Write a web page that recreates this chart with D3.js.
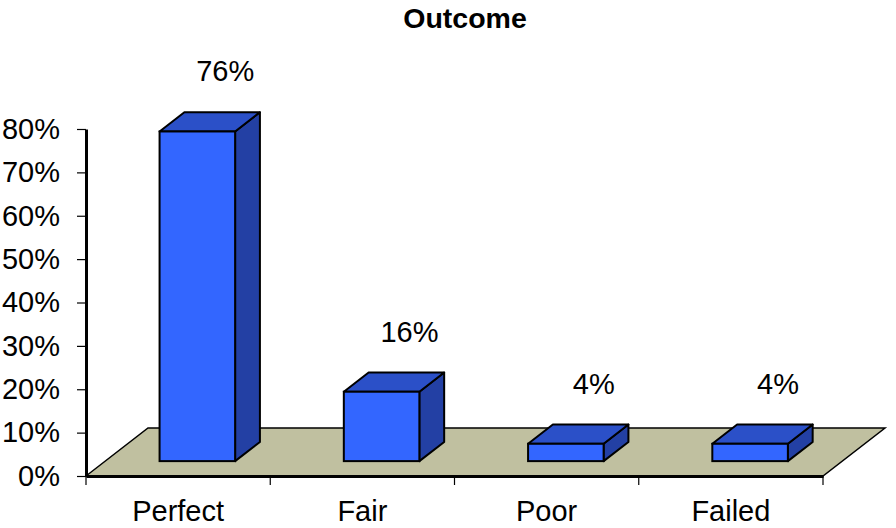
<!DOCTYPE html>
<html>
<head>
<meta charset="utf-8">
<script src="https://cdn.jsdelivr.net/npm/d3@7"></script>
<style>
  body { margin: 0; background: #fff; }
  text { font-family: "Liberation Sans", Arial, sans-serif; fill: #000; }
</style>
</head>
<body>
<div id="chart"></div>
<script>
(function(){
  const categories = ["Perfect", "Fair", "Poor", "Failed"];
  const values = [0.76, 0.16, 0.04, 0.04];
  const valueLabels = ["76%", "16%", "4%", "4%"];
  const yTicks = [0, 0.1, 0.2, 0.3, 0.4, 0.5, 0.6, 0.7, 0.8];

  const width = 896, height = 528;
  const floorDx = 62, floorDy = -48;   // depth vector of the floor
  const barFront = 0.31, barBack = 0.71; // bar depth position as fraction of floor depth

  const svg = d3.select("#chart")
    .append("svg")
    .attr("width", width)
    .attr("height", height);

  const x = d3.scaleBand()
    .domain(categories)
    .range([86, 823]);

  const y = d3.scaleLinear()
    .domain([0, 0.8])
    .range([476, 129]);

  // floor
  const y0 = y(0);
  svg.append("path")
    .attr("d", `M${x.range()[0]},${y0} L${x.range()[0] + floorDx},${y0 + floorDy} L${x.range()[1] + floorDx},${y0 + floorDy} L${x.range()[1]},${y0} Z`)
    .style("fill", "#c0c0a0")
    .style("stroke", "#000")
    .style("stroke-width", 1.5);

  const bw = x.bandwidth() * 0.41;
  const fx = floorDx * barFront, fy = floorDy * barFront;
  const ddx = floorDx * (barBack - barFront), ddy = floorDy * (barBack - barFront);

  const bars = svg.append("g")
    .selectAll(".bar")
    .data(categories.map((c, i) => ({ cat: c, value: values[i], label: valueLabels[i] })))
    .enter()
    .append("g")
    .attr("class", "bar");

  const left = d => x(d.cat) + x.bandwidth() / 2 - bw / 2 + fx;
  const top = d => y(d.value) + fy;
  const bottom = y0 + fy;

  // side face
  bars.append("path")
    .attr("d", d => {
      const r = left(d) + bw;
      return `M${r},${top(d)} L${r + ddx},${top(d) + ddy} L${r + ddx},${bottom + ddy} L${r},${bottom} Z`;
    })
    .style("fill", "#2340a4")
    .style("stroke", "#000")
    .style("stroke-width", 2)
    .style("stroke-linejoin", "round");

  // top face
  bars.append("path")
    .attr("d", d => {
      const l = left(d), t = top(d);
      return `M${l},${t} L${l + ddx},${t + ddy} L${l + bw + ddx},${t + ddy} L${l + bw},${t} Z`;
    })
    .style("fill", "#2b50c8")
    .style("stroke", "#000")
    .style("stroke-width", 2)
    .style("stroke-linejoin", "round");

  // front face
  bars.append("rect")
    .attr("x", d => left(d))
    .attr("y", d => top(d))
    .attr("width", bw)
    .attr("height", d => bottom - top(d))
    .style("fill", "#3366ff")
    .style("stroke", "#000")
    .style("stroke-width", 2);

  // value labels
  bars.append("text")
    .attr("x", d => x(d.cat) + x.bandwidth() / 2 + floorDx * 0.76)
    .attr("y", d => top(d) - 50)
    .attr("text-anchor", "middle")
    .style("font-size", "29px")
    .text(d => d.label);

  // y axis
  const yAxis = svg.append("g")
    .attr("transform", `translate(${x.range()[0]},0)`)
    .call(d3.axisLeft(y)
      .tickValues(yTicks)
      .tickFormat(d3.format(".0%"))
      .tickSize(9)
      .tickSizeOuter(0)
      .tickPadding(17));
  yAxis.select(".domain").attr("stroke", "#000").attr("stroke-width", 3);
  yAxis.selectAll(".tick line").attr("stroke", "#000").attr("stroke-width", 1.2);
  yAxis.selectAll(".tick text")
    .style("font-size", "29px")
    .style("font-family", "'Liberation Sans', Arial, sans-serif");

  // x axis
  const xAxis = svg.append("g")
    .attr("transform", `translate(0,${y0})`)
    .call(d3.axisBottom(x)
      .tickSize(0)
      .tickPadding(24.5));
  xAxis.select(".domain").attr("stroke", "#000").attr("stroke-width", 3);
  xAxis.selectAll(".tick text")
    .style("font-size", "29px")
    .style("font-family", "'Liberation Sans', Arial, sans-serif");

  // category boundary ticks
  const edges = categories.map(c => x(c)).concat([x.range()[1]]);
  svg.append("g")
    .selectAll("line")
    .data(edges)
    .enter()
    .append("line")
    .attr("x1", d => d)
    .attr("x2", d => d)
    .attr("y1", y0)
    .attr("y2", y0 + 9)
    .attr("stroke", "#000")
    .attr("stroke-width", 1.2);

  // title
  svg.append("text")
    .attr("x", 465)
    .attr("y", 28)
    .attr("text-anchor", "middle")
    .style("font-size", "28.5px")
    .style("font-weight", "bold")
    .text("Outcome");
})();
</script>
</body>
</html>
